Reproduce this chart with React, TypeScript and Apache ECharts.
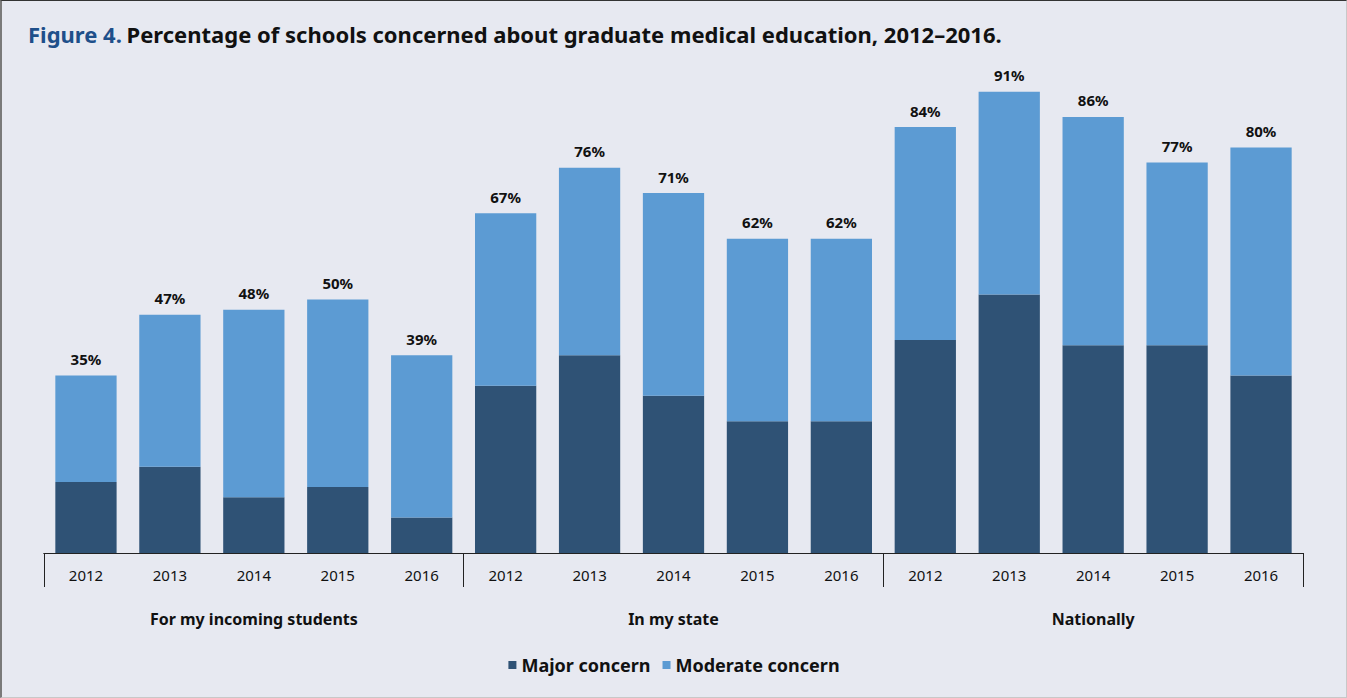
import React, { useEffect, useRef } from "react";
import * as echarts from "echarts";

const years = ["2012", "2013", "2014", "2015", "2016", "2012", "2013", "2014", "2015", "2016", "2012", "2013", "2014", "2015", "2016"];
const groups = ["For my incoming students", "In my state", "Nationally"];
const totals = [35, 47, 48, 50, 39, 67, 76, 71, 62, 62, 84, 91, 86, 77, 80];
const major = [14, 17, 11, 13, 7, 33, 39, 31, 26, 26, 42, 51, 41, 41, 35];
const moderate = totals.map((t, i) => t - major[i]);

const FONT = "'Noto Sans', sans-serif";

export default function App() {
  const ref = useRef<HTMLDivElement>(null);
  useEffect(() => {
    const chart = echarts.init(ref.current!, null, { renderer: "svg" });
    chart.setOption({
      animation: false,
      backgroundColor: "#E7E9F1",
      textStyle: { fontFamily: FONT },
      title: {
        left: 21,
        top: 17,
        text: "{a|Figure 4.} {b|Percentage of schools concerned about graduate medical education, 2012–2016.}",
        textStyle: {
          rich: {
            a: { fontFamily: FONT, fontWeight: "bold", fontSize: 22, color: "#1E4F8A" },
            b: { fontFamily: FONT, fontWeight: "bold", fontSize: 22, color: "#111111" },
          },
        },
      },
      legend: {
        bottom: 18,
        left: "center",
        icon: "rect",
        itemWidth: 8,
        itemHeight: 8,
        itemGap: 12,
        textStyle: { fontFamily: FONT, fontWeight: "bold", fontSize: 18, color: "#111" },
        data: ["Major concern", "Moderate concern"],
      },
      grid: { left: 42, right: 43, top: 45, bottom: 144 },
      xAxis: [
        {
          type: "category",
          data: years,
          position: "bottom",
          axisLine: { lineStyle: { color: "#222", width: 1 } },
          axisTick: { show: false },
          axisLabel: { margin: 14, fontFamily: FONT, fontSize: 15, color: "#111" },
        },
        {
          type: "category",
          data: groups,
          position: "bottom",
          axisLine: { lineStyle: { color: "#222", width: 1 } },
          axisTick: { show: true, length: 34, interval: 0, lineStyle: { color: "#222" } },
          axisLabel: { margin: 58, fontFamily: FONT, fontSize: 16, fontWeight: "bold", color: "#111" },
        },
      ],
      yAxis: { type: "value", min: 0, max: 100, show: false, splitLine: { show: false } },
      series: [
        {
          name: "Major concern",
          type: "bar",
          stack: "s",
          xAxisIndex: 0,
          data: major,
          barCategoryGap: "27%",
          itemStyle: { color: "#2F5275" },
        },
        {
          name: "Moderate concern",
          type: "bar",
          stack: "s",
          xAxisIndex: 0,
          data: moderate,
          barCategoryGap: "27%",
          itemStyle: { color: "#5C9BD3" },
          label: {
            show: true,
            position: "top",
            distance: 9,
            fontFamily: FONT,
            fontWeight: "bold",
            fontSize: 15,
            color: "#111",
            formatter: (p: any) => totals[p.dataIndex] + "%",
          },
        },
      ],
    });
    return () => chart.dispose();
  }, []);
  return (
    <div
      style={{
        position: "fixed",
        left: 0,
        top: 0,
        width: 1347,
        height: 698,
        boxSizing: "border-box",
        borderTop: "1px solid #333",
        borderLeft: "2px solid #7a7a7a",
        borderRight: "1px solid #c8c8c8",
        borderBottom: "1px solid #c8c8c8",
        background: "#E7E9F1",
      }}
    >
      <div ref={ref} style={{ width: 1344, height: 696 }} />
    </div>
  );
}
